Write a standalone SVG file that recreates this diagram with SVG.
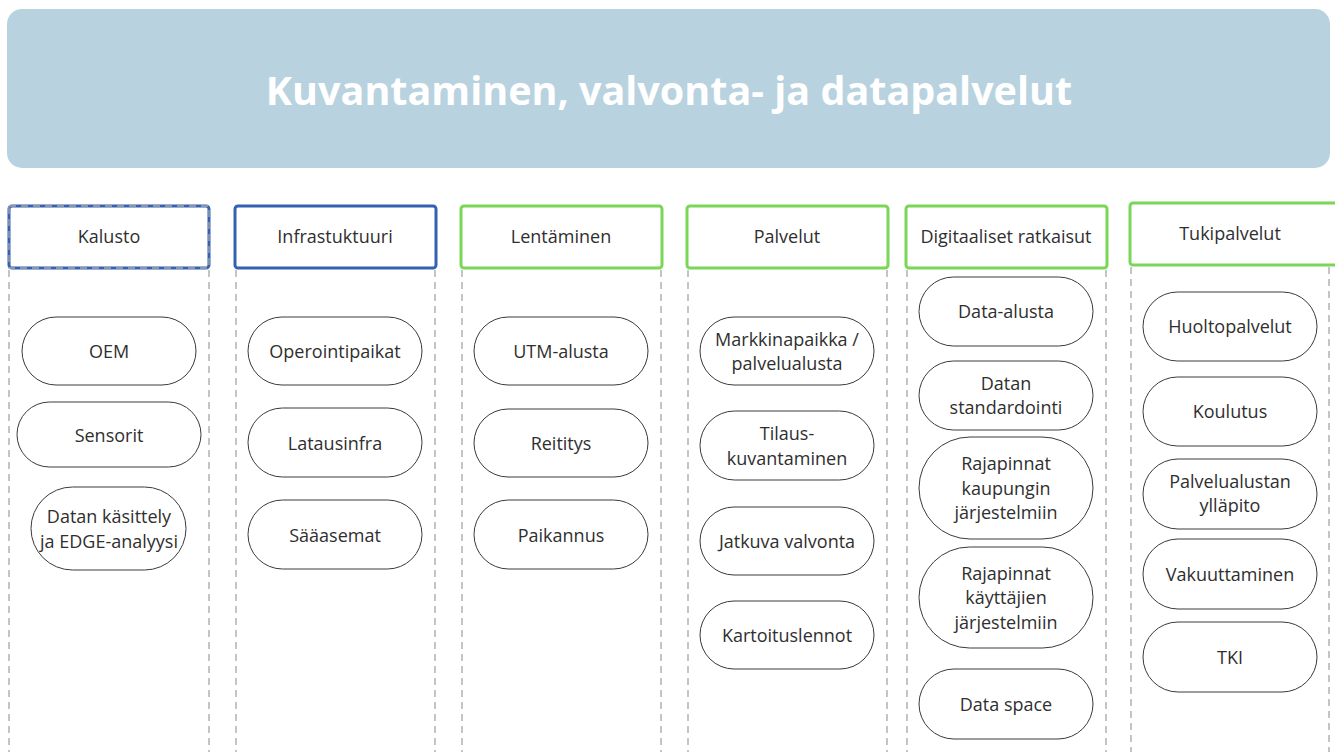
<svg xmlns="http://www.w3.org/2000/svg" width="1335" height="752" viewBox="0 0 1335 752">
  <style>
    .banner { fill: #b8d3df; }
    .title { font-family: "Open Sans", "Liberation Sans", sans-serif; font-weight: 700; font-size: 39.5px; fill: #ffffff; text-anchor: middle; }
    .hdr { fill: #ffffff; stroke-width: 3; }
    .blue { stroke: #3561b3; }
    .green { stroke: #7ad656; }
    .lane { fill: none; stroke: #a6a6a6; stroke-width: 1.3; stroke-dasharray: 7 5; }
    .pill { fill: #ffffff; stroke: #3a3a3a; stroke-width: 1; }
    .lbl { font-family: "Open Sans", "Liberation Sans", sans-serif; font-size: 18px; fill: #2f2f2f; text-anchor: middle; }
  </style>

  <!-- Title banner -->
  <g id="banner">
    <rect class="banner" x="7" y="9" width="1323" height="159" rx="15"/>
    <text class="title" x="669" y="105">Kuvantaminen, valvonta- ja datapalvelut</text>
  </g>

  <!-- Column lanes (dashed separators) -->
  <g id="lanes">
    <line class="lane" x1="9" y1="270" x2="9" y2="752"/>
    <line class="lane" x1="209" y1="270" x2="209" y2="752"/>
    <line class="lane" x1="236" y1="270" x2="236" y2="752"/>
    <line class="lane" x1="435" y1="270" x2="435" y2="752"/>
    <line class="lane" x1="462" y1="270" x2="462" y2="752"/>
    <line class="lane" x1="661" y1="270" x2="661" y2="752"/>
    <line class="lane" x1="688" y1="270" x2="688" y2="752"/>
    <line class="lane" x1="887" y1="270" x2="887" y2="752"/>
    <line class="lane" x1="907" y1="270" x2="907" y2="752"/>
    <line class="lane" x1="1106" y1="270" x2="1106" y2="752"/>
    <line class="lane" x1="1131" y1="267" x2="1131" y2="752"/>
    <line class="lane" x1="1329" y1="267" x2="1329" y2="752"/>
  </g>

  <!-- Column headers -->
  <g id="hdr-kalusto">
    <rect class="hdr blue" x="9" y="206" width="200" height="62" rx="3"/>
    <rect class="lane" x="9" y="206" width="200" height="62"/>
    <text class="lbl" x="109" y="243">Kalusto</text>
  </g>
  <g id="hdr-infra">
    <rect class="hdr blue" x="235" y="206" width="201" height="62" rx="3"/>
    <text class="lbl" x="335" y="243">Infrastuktuuri</text>
  </g>
  <g id="hdr-lentaminen">
    <rect class="hdr green" x="461" y="206" width="201" height="62" rx="3"/>
    <text class="lbl" x="561" y="243">Lentäminen</text>
  </g>
  <g id="hdr-palvelut">
    <rect class="hdr green" x="687" y="206" width="201" height="62" rx="3"/>
    <text class="lbl" x="787" y="243">Palvelut</text>
  </g>
  <g id="hdr-digitaaliset">
    <rect class="hdr green" x="906" y="206" width="201" height="62" rx="3"/>
    <text class="lbl" x="1006" y="243">Digitaaliset ratkaisut</text>
  </g>
  <g id="hdr-tuki">
    <rect class="hdr green" x="1130" y="203" width="210" height="62" rx="3"/>
    <text class="lbl" x="1230" y="240">Tukipalvelut</text>
  </g>

  <!-- Kalusto -->
  <g id="oem">
    <rect class="pill" x="22" y="317" width="174" height="68" rx="34"/>
    <text class="lbl" x="109" y="358">OEM</text>
  </g>
  <g id="sensorit">
    <rect class="pill" x="17" y="402" width="184" height="65" rx="32.5"/>
    <text class="lbl" x="109" y="442">Sensorit</text>
  </g>
  <g id="datan-kasittely">
    <rect class="pill" x="31" y="487" width="155" height="83" rx="41.5"/>
    <text class="lbl" x="109" y="523">Datan käsittely</text>
    <text class="lbl" x="109" y="548">ja EDGE-analyysi</text>
  </g>

  <!-- Infrastuktuuri -->
  <g id="operointipaikat">
    <rect class="pill" x="248" y="317" width="174" height="68" rx="34"/>
    <text class="lbl" x="335" y="358">Operointipaikat</text>
  </g>
  <g id="latausinfra">
    <rect class="pill" x="248" y="408" width="174" height="69" rx="34.5"/>
    <text class="lbl" x="335" y="450">Latausinfra</text>
  </g>
  <g id="saaasemat">
    <rect class="pill" x="248" y="500" width="174" height="69" rx="34.5"/>
    <text class="lbl" x="335" y="542">Sääasemat</text>
  </g>

  <!-- Lentäminen -->
  <g id="utm-alusta">
    <rect class="pill" x="474" y="317" width="174" height="68" rx="34"/>
    <text class="lbl" x="561" y="358">UTM-alusta</text>
  </g>
  <g id="reititys">
    <rect class="pill" x="474" y="409" width="174" height="68" rx="34"/>
    <text class="lbl" x="561" y="450">Reititys</text>
  </g>
  <g id="paikannus">
    <rect class="pill" x="474" y="500" width="174" height="69" rx="34.5"/>
    <text class="lbl" x="561" y="542">Paikannus</text>
  </g>

  <!-- Palvelut -->
  <g id="markkinapaikka">
    <rect class="pill" x="700" y="317" width="174" height="68" rx="34"/>
    <text class="lbl" x="787" y="346">Markkinapaikka /</text>
    <text class="lbl" x="787" y="370">palvelualusta</text>
  </g>
  <g id="tilauskuvantaminen">
    <rect class="pill" x="700" y="411" width="174" height="69" rx="34.5"/>
    <text class="lbl" x="787" y="440">Tilaus-</text>
    <text class="lbl" x="787" y="465">kuvantaminen</text>
  </g>
  <g id="jatkuva-valvonta">
    <rect class="pill" x="700" y="507" width="174" height="68" rx="34"/>
    <text class="lbl" x="787" y="548">Jatkuva valvonta</text>
  </g>
  <g id="kartoituslennot">
    <rect class="pill" x="700" y="601" width="174" height="68" rx="34"/>
    <text class="lbl" x="787" y="642">Kartoituslennot</text>
  </g>

  <!-- Digitaaliset ratkaisut -->
  <g id="data-alusta">
    <rect class="pill" x="919" y="277" width="174" height="69" rx="34.5"/>
    <text class="lbl" x="1006" y="318">Data-alusta</text>
  </g>
  <g id="datan-standardointi">
    <rect class="pill" x="919" y="361" width="174" height="69" rx="34.5"/>
    <text class="lbl" x="1006" y="390">Datan</text>
    <text class="lbl" x="1006" y="414">standardointi</text>
  </g>
  <g id="rajapinnat-kaupunki">
    <rect class="pill" x="919" y="437" width="174" height="102" rx="51"/>
    <text class="lbl" x="1006" y="470">Rajapinnat</text>
    <text class="lbl" x="1006" y="495">kaupungin</text>
    <text class="lbl" x="1006" y="519">järjestelmiin</text>
  </g>
  <g id="rajapinnat-kayttajat">
    <rect class="pill" x="919" y="547" width="174" height="101" rx="50.5"/>
    <text class="lbl" x="1006" y="580">Rajapinnat</text>
    <text class="lbl" x="1006" y="604">käyttäjien</text>
    <text class="lbl" x="1006" y="629">järjestelmiin</text>
  </g>
  <g id="data-space">
    <rect class="pill" x="919" y="669" width="174" height="70" rx="35"/>
    <text class="lbl" x="1006" y="711">Data space</text>
  </g>

  <!-- Tukipalvelut -->
  <g id="huoltopalvelut">
    <rect class="pill" x="1143" y="292" width="174" height="69" rx="34.5"/>
    <text class="lbl" x="1230" y="333">Huoltopalvelut</text>
  </g>
  <g id="koulutus">
    <rect class="pill" x="1143" y="377" width="174" height="69" rx="34.5"/>
    <text class="lbl" x="1230" y="418">Koulutus</text>
  </g>
  <g id="palvelualustan-yllapito">
    <rect class="pill" x="1143" y="459" width="174" height="70" rx="35"/>
    <text class="lbl" x="1230" y="488">Palvelualustan</text>
    <text class="lbl" x="1230" y="512">ylläpito</text>
  </g>
  <g id="vakuuttaminen">
    <rect class="pill" x="1143" y="539" width="174" height="70" rx="35"/>
    <text class="lbl" x="1230" y="581">Vakuuttaminen</text>
  </g>
  <g id="tki">
    <rect class="pill" x="1143" y="622" width="174" height="70" rx="35"/>
    <text class="lbl" x="1230" y="664">TKI</text>
  </g>
</svg>
